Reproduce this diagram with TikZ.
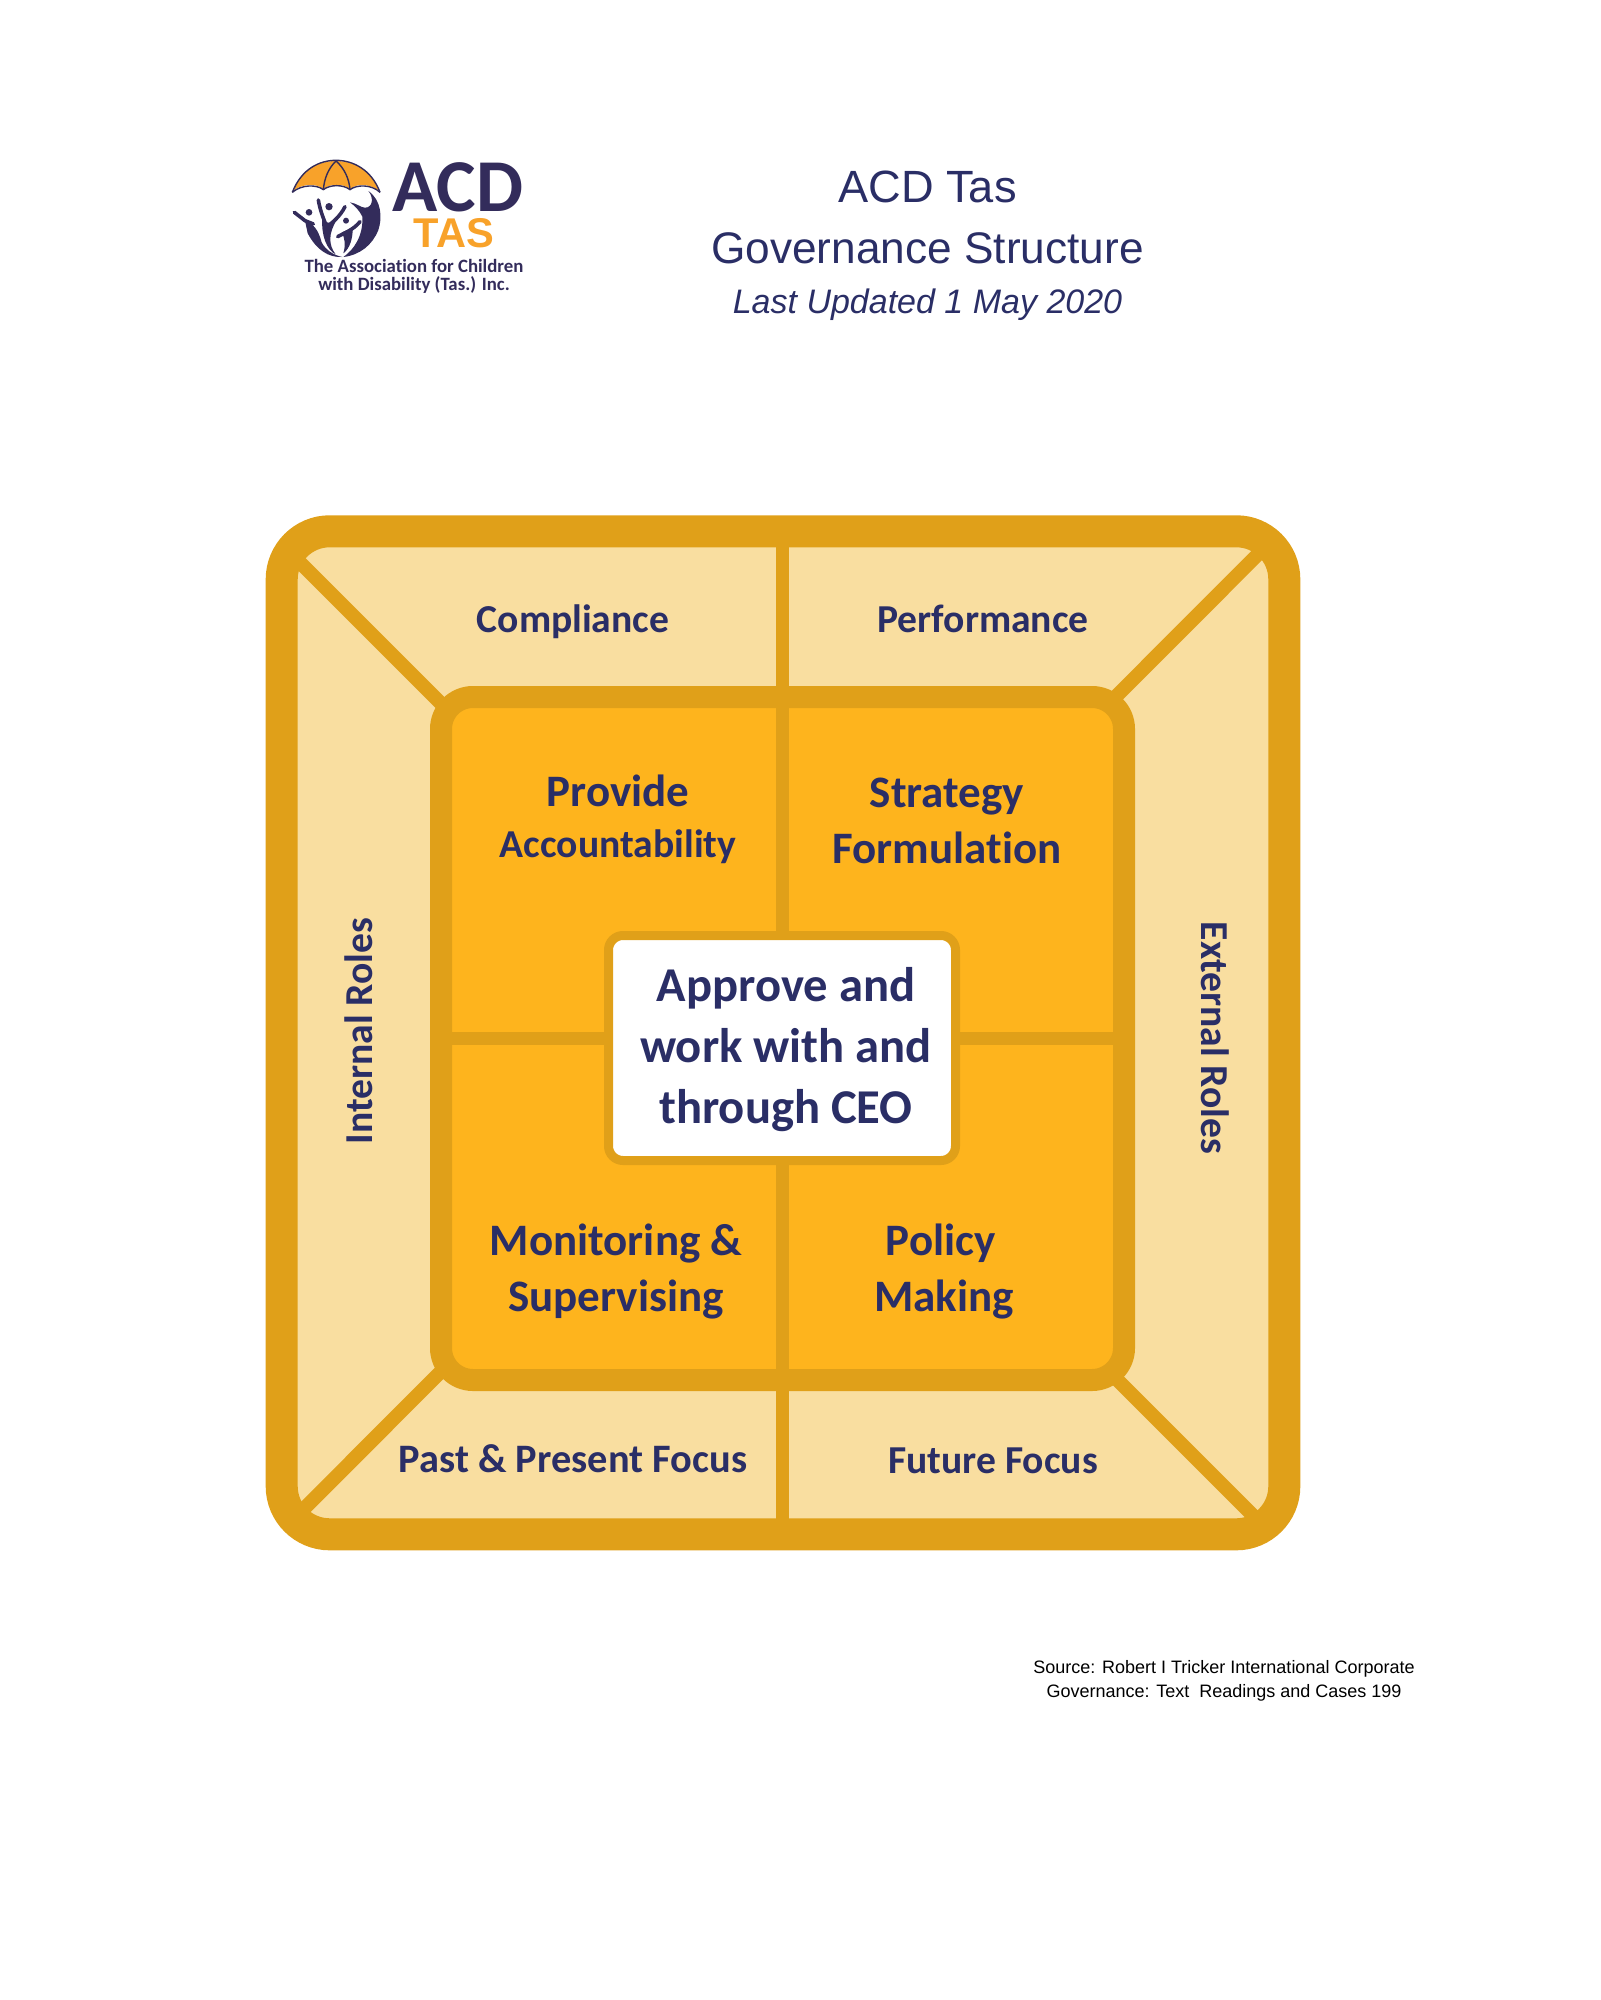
\documentclass[tikz,border=0pt]{standalone}
\usepackage{fontspec}
\usepackage{xcolor}
\usetikzlibrary{positioning}
\setmainfont{Liberation Sans}
\newfontfamily\labelfont[Ligatures={NoCommon}]{Carlito}
\definecolor{color1}{HTML}{E0A019}
\definecolor{color2}{HTML}{F9DEA0}
\definecolor{color3}{HTML}{FEB41D}
\definecolor{color4}{HTML}{2A2E66}
\definecolor{color5}{HTML}{332C5B}
\definecolor{color6}{HTML}{F8A22A}
\tikzset{
  frame/.style={draw=color1, rectangle, outer sep=0pt, inner sep=0pt},
  divider/.style={draw=color1, line width=6.5pt},
  diagonal/.style={draw=color1, line width=7pt},
  biglabel/.style={color4, align=center, inner sep=0pt, font=\labelfont\bfseries\fontsize{22.5}{28}\selectfont},
  sidelabel/.style={color4, anchor=base, inner sep=0pt, font=\labelfont\bfseries\fontsize{19.8}{24}\selectfont},
  head/.style={color4, inner sep=0pt, anchor=base},
  source/.style={black, inner sep=0pt, anchor=base, font=\fontsize{9}{11}\selectfont},
  logotext/.style={color5, inner sep=0pt, anchor=base, font=\labelfont\bfseries},
  kid/.style={draw=color5, line width=1.8pt, line cap=round, line join=round}
}
\begin{document}
\begin{tikzpicture}[x=0.5pt, y=-0.5pt]
  \useasboundingbox (0,0) rectangle (1600,2000);

  % boxes
  \node[frame, fill=color2, line width=16pt, rounded corners=24pt, minimum width=501.3pt, minimum height=501.5pt] (outer) at (783,1032.8) {};
  \node[frame, fill=color3, line width=11pt, rounded corners=16pt, minimum width=341.5pt, minimum height=341.5pt] (inner) at (782.5,1038.5) {};
  \coordinate (tl out) at (291,553.5);
  \coordinate (tl in) at (448,710.5);
  \coordinate (tr out) at (1267.5,544.8);
  \coordinate (tr in) at (1109.7,702.7);
  \coordinate (bl out) at (295,1517.7);
  \coordinate (bl in) at (446.7,1365.8);
  \coordinate (br out) at (1262.2,1524.8);
  \coordinate (br in) at (1110.8,1373.3);
  \draw[diagonal] (tl out) -- (tl in);
  \draw[diagonal] (tr out) -- (tr in);
  \draw[diagonal] (bl out) -- (bl in);
  \draw[diagonal] (br out) -- (br in);
  \draw[divider] (inner.north |- outer.north) -- (inner.north);
  \draw[divider] (inner.south |- outer.south) -- (inner.south);
  \draw[divider] (inner.north) -- (inner.south);
  \draw[divider] (inner.west) -- (inner.east);
  \node[frame, fill=white, line width=4.5pt, rounded corners=7.25pt, minimum width=173.5pt, minimum height=112.5pt] (ceo) at (782,1048) {};

  % labels
  \node[biglabel, font=\labelfont\bfseries\fontsize{24.3}{30.6}\selectfont] (approve) at (786,1049.5) {Approve and\\work with and\\through CEO};
  \node[biglabel] (provide) at (618,819.5) {Provide\\[-2.6pt]{\fontsize{19.8}{24}\selectfont Accountability}};
  \node[biglabel] (strategy) at (947,821) {Strategy\\Formulation};
  \node[biglabel] (monitoring) at (616,1272) {Monitoring \&\\Supervising};
  \node[biglabel] (policy) at (944,1272) {Policy\hspace*{3.2pt}\\Making};
  \node[sidelabel] (compliance) at (573,632) {Compliance};
  \node[sidelabel] (performance) at (983,632) {Performance};
  \node[sidelabel, font=\labelfont\bfseries\fontsize{20.2}{24}\selectfont] (past) at (573,1472) {Past \& Present Focus};
  \node[sidelabel] (future) at (993,1473) {Future Focus};
  \node[sidelabel, rotate=90] (internal) at (372,1031) {Internal Roles};
  \node[sidelabel, rotate=-90] (external) at (1201,1038) {External Roles};

  % title
  \node[head, font=\fontsize{22.6}{26}\selectfont] (title1) at (927.5,203) {ACD Tas};
  \node[head, font=\fontsize{22.1}{26}\selectfont] (title2) at (927.5,264) {Governance Structure};
  \node[head, font=\itshape\fontsize{17}{20}\selectfont] (title3) at (927.5,314) {Last Updated 1 May 2020};
  \node[source] (source1) at (1224,1673) {Source: Robert I Tricker International Corporate};
  \node[source] (source2) at (1224,1697) {Governance: Text\ \ Readings and Cases 199};

  % logo
  \node[logotext, font=\labelfont\bfseries\fontsize{37.3}{40}\selectfont] (acd) at (458,211.7) {ACD};
  \node[logotext, color6, font=\rmfamily\bfseries\fontsize{20.8}{22}\selectfont] (tas) at (454,247.7) {TAS};
  \node[logotext, font=\labelfont\bfseries\fontsize{9.4}{12}\selectfont] (assoc1) at (414,272.7) {The Association for Children};
  \node[logotext, font=\labelfont\bfseries\fontsize{9.4}{12}\selectfont] (assoc2) at (414,291) {with Disability (Tas.) Inc.};
  \begin{scope}[shift={(285,155)}, x=0.1667pt, y=-0.1667pt]
    \fill[color6] (26,106) .. controls (50,40) and (105,18) .. (153,18) .. controls (205,18) and (260,45) .. (281,106) .. controls (250,85) and (215,85) .. (195,102) .. controls (175,85) and (135,85) .. (115,102) .. controls (95,85) and (55,85) .. (26,106) -- cycle;
    \draw[color5, line width=0.7pt] (22,112) .. controls (50,40) and (105,16) .. (153,16) .. controls (205,16) and (260,45) .. (285,112);
    \draw[color5, line width=0.7pt] (22,112) .. controls (50,88) and (95,88) .. (115,104) .. controls (135,88) and (175,88) .. (195,104) .. controls (215,88) and (260,88) .. (285,112);
    \draw[color5, line width=0.7pt] (153,18) .. controls (130,40) and (118,70) .. (115,104);
    \draw[color5, line width=0.7pt] (153,18) .. controls (178,40) and (192,70) .. (195,104);
    % children
    \fill[color5] (250,108) .. controls (290,135) and (292,190) .. (280,225) .. controls (262,270) and (225,300) .. (175,306) .. controls (205,285) and (235,245) .. (232,185) .. controls (222,165) and (212,155) .. (195,142) .. controls (215,145) and (228,158) .. (240,158) .. controls (262,158) and (268,130) .. (250,108) -- cycle;
    \fill[white] (241,139) circle[radius=12];
    \fill[color5] (72,172) circle[radius=10];
    \fill[color5] (132,155) circle[radius=11];
    \fill[color5] (183,197) circle[radius=9];
    \draw[kid] (28,172) -- (60,197) -- (85,207);
    \fill[color5] (60,197) .. controls (85,205) and (100,225) .. (110,262) .. controls (122,285) and (145,300) .. (172,306) .. controls (130,308) and (95,285) .. (68,235) -- cycle;
    \draw[kid] (100,135) .. controls (105,165) and (115,190) .. (125,215);
    \draw[kid] (180,155) .. controls (165,185) and (140,205) .. (125,215);
    \fill[color5] (112,190) .. controls (130,212) and (145,205) .. (155,195) .. controls (130,235) and (130,270) .. (152,298) .. controls (125,285) and (108,240) .. (112,190) -- cycle;
    \draw[kid] (158,245) .. controls (175,235) and (205,225) .. (225,200);
    \fill[color5] (170,232) .. controls (185,225) and (195,225) .. (203,222) .. controls (203,250) and (195,280) .. (175,295) .. controls (182,270) and (180,250) .. (170,232) -- cycle;
  \end{scope}
\end{tikzpicture}
\end{document}
